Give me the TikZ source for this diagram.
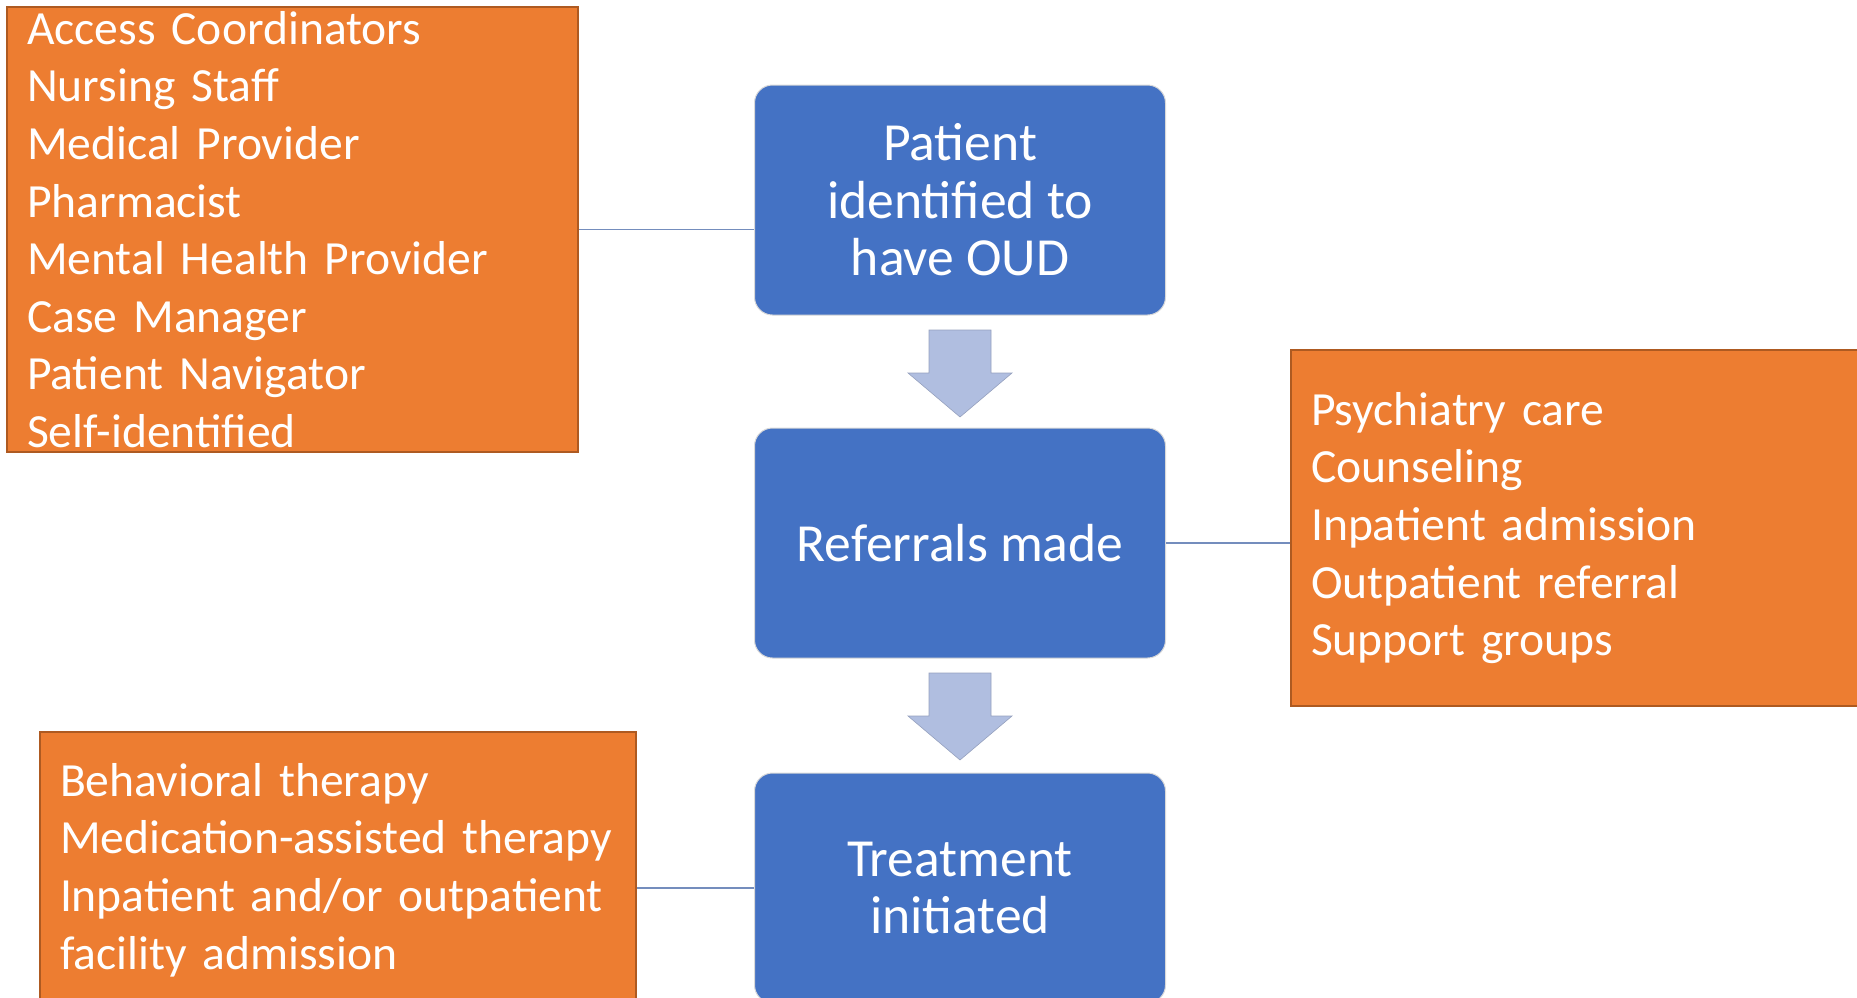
\documentclass[tikz,border=0pt]{standalone}
\usepackage{fontspec}
\setmainfont{Carlito}
\definecolor{stepblue}{RGB}{68,114,196}
\definecolor{listorange}{RGB}{237,125,49}
\definecolor{listedge}{RGB}{174,90,33}
\definecolor{arrowblue}{RGB}{176,190,224}
\definecolor{linkblue}{RGB}{116,141,189}
\usetikzlibrary{calc}
\tikzset{
  stepbox/.style={draw=black!15, line width=0.5pt, fill=stepblue, rounded corners=9pt, text=white,
    font=\fontsize{26.8}{28.75}\selectfont, align=center, minimum width=205.5pt, minimum height=115pt, inner sep=0pt},
  listbox/.style={draw=listedge, line width=1pt, fill=listorange, text=white,
    font=\fontsize{23.8}{28.8}\selectfont, align=left, inner xsep=10pt, inner ysep=0pt},
  link/.style={draw=linkblue, line width=0.8pt},
  blockarrow/.style={fill=arrowblue, draw=arrowblue!85!black, line width=0.3pt}
}

\begin{document}
\begin{tikzpicture}[x=0.5pt, y=-0.5pt]
  \useasboundingbox (0,0) rectangle (1857,997);
  \clip (0,0) rectangle (1857,997);

  % Steps
  \node[stepbox] (pid) at (960, 200) {Patient\\identified to\\have OUD};
  \node[stepbox] (refs) at (960, 543) {Referrals made};
  \node[stepbox] (tx) at (960, 888) {Treatment\\initiated};

  % Arrows between steps
  \foreach \y in {330, 673}
    \fill[blockarrow] (929,\y) -- (991,\y) -- (991,\y+43) -- (1012,\y+43) -- (960,\y+87) -- (908,\y+43) -- (929,\y+43) -- cycle;

  % Who identifies
  \node[listbox, text width=265.5pt, minimum height=222.5pt] (idby) at (292.5, 229.5) {Access Coordinators\\Nursing Staff\\Medical Provider\\Pharmacist\\Mental Health Provider\\Case Manager\\Patient Navigator\\Self-identified};
  \draw[link] (idby.east) -- (idby.east -| pid.west);

  % Referral options
  \node[listbox, text width=280pt, minimum height=178pt] (refto) at (1591, 528) {Psychiatry care\\Counseling\\Inpatient admission\\Outpatient referral\\Support groups};
  \draw[link] (refs.east) -- (refs.east -| refto.west);

  % Treatment options
  \node[listbox, text width=278pt, minimum height=138pt] (txlist) at (338, 870) {Behavioral therapy\\Medication-assisted therapy\\Inpatient and/or outpatient\\facility admission};
  \draw[link] (tx.west) -- (tx.west -| txlist.east);
\end{tikzpicture}
\end{document}
